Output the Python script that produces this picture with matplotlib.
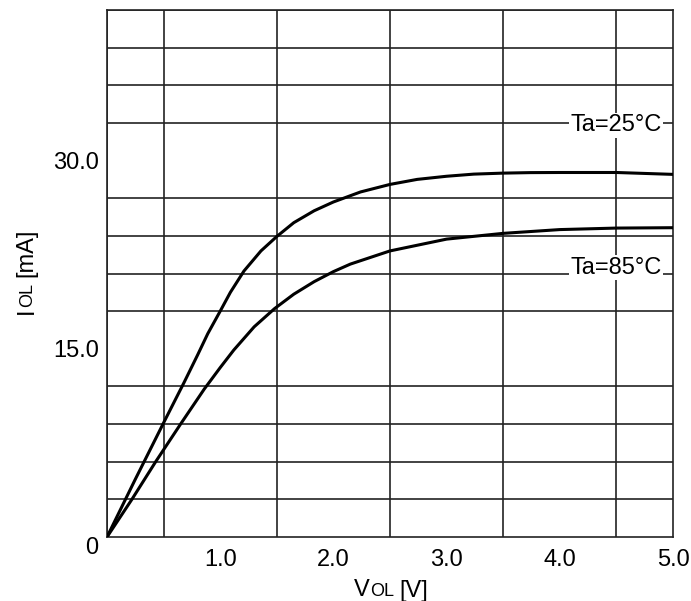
import matplotlib
matplotlib.use("Agg")
import matplotlib.pyplot as plt
import numpy as np

plt.rcParams['font.family'] = ['Liberation Sans', 'DejaVu Sans']

# curves (VOL in V, IOL in mA)
v_25 = [0, 0.25, 0.5, 0.68, 0.8, 0.89, 1.0, 1.09, 1.21, 1.36, 1.5, 1.65, 1.83,
        2.0, 2.15, 2.24, 2.5, 2.74, 3.0, 3.24, 3.5, 3.74, 4.0, 4.5, 5.0]
i_25 = [0, 4.6, 9.1, 12.3, 14.5, 16.2, 18.0, 19.5, 21.2, 22.8, 23.95, 25.05, 26.0,
        26.7, 27.2, 27.5, 28.1, 28.5, 28.75, 28.92, 29.0, 29.04, 29.05, 29.05, 28.9]
v_85 = [0, 0.22, 0.43, 0.65, 0.74, 0.86, 1.0, 1.12, 1.3, 1.48, 1.65, 1.83,
        2.0, 2.15, 2.5, 3.0, 3.5, 4.0, 4.5, 5.0]
i_85 = [0, 3, 6, 9, 10.2, 11.8, 13.5, 14.9, 16.75, 18.2, 19.35, 20.35,
        21.15, 21.75, 22.8, 23.74, 24.2, 24.5, 24.62, 24.65]

x_ticks = [1, 2, 3, 4, 5]
x_labels = ["1.0", "2.0", "3.0", "4.0", "5.0"]
y_ticks = [0, 15, 30]
y_labels = ["0", "15.0", "30.0"]

FS = 17
grid_col = '#222222'

fig = plt.figure(figsize=(6.91, 6.01), dpi=100)
ax = fig.add_axes([107/691, 1 - 537/601, 566/691, 527/601])

ax.plot(v_25, i_25, color='black', lw=2.2, solid_capstyle='round',
        solid_joinstyle='round', zorder=3)
ax.plot(v_85, i_85, color='black', lw=2.2, solid_capstyle='round',
        solid_joinstyle='round', zorder=3)

ax.set_xlim(0, 5)
ax.set_ylim(0, 42)

# grid every 0.5 V and 3 mA
ax.set_xticks(np.arange(0, 5.01, 0.5), minor=True)
ax.set_yticks(np.arange(0, 42.01, 3), minor=True)
ax.grid(which='minor', color=grid_col, lw=1.2)
ax.tick_params(which='both', length=0)

ax.set_xticks(x_ticks)
ax.set_xticklabels(x_labels, fontsize=FS)
ax.set_yticks(y_ticks)
ax.set_yticklabels(y_labels, fontsize=FS)
ax.tick_params(axis='x', pad=9)
ax.tick_params(axis='y', pad=6)
ax.get_yticklabels()[0].set_va('top')

for s in ax.spines.values():
    s.set_color(grid_col)
    s.set_linewidth(1.2)

ax.text(4.5, 33, 'Ta=25°C', fontsize=FS, ha='center', va='center_baseline',
        bbox=dict(fc='white', ec='none', pad=1), zorder=4)
ax.text(4.5, 21, 'Ta=85°C', fontsize=FS, ha='center', va='baseline',
        bbox=dict(fc='white', ec='none', pad=1), zorder=4)


# axis labels with small-size "OL" on the baseline
def compound_label(parts, cx, cy, rotation):
    W, H = fig.bbox.width, fig.bbox.height
    renderer = fig.canvas.get_renderer()
    texts, widths = [], []
    for s, size, gap in parts:
        t = fig.text(0, 0, s, fontsize=size, rotation=rotation,
                     rotation_mode='anchor', ha='left', va='baseline')
        bb = t.get_window_extent(renderer)
        texts.append((t, gap))
        widths.append(bb.height if rotation else bb.width)
    total = sum(widths) + sum(g for _, _, g in parts)
    pos = -total / 2
    for (t, gap), w in zip(texts, widths):
        pos += gap
        if rotation:
            t.set_position((cx / W, (cy + pos) / H))
        else:
            t.set_position(((cx + pos) / W, cy / H))
        pos += w


compound_label([('V', FS, 0), ('OL', 13, 0.5), ('[V]', FS, 6)], 391, 601 - 596.5, 0)
compound_label([('I', FS, 0), ('OL', 13, 0.5), ('[mA]', FS, 6)], 32.5, 601 - 271.5, 90)

fig.savefig('out.png', dpi=100)
